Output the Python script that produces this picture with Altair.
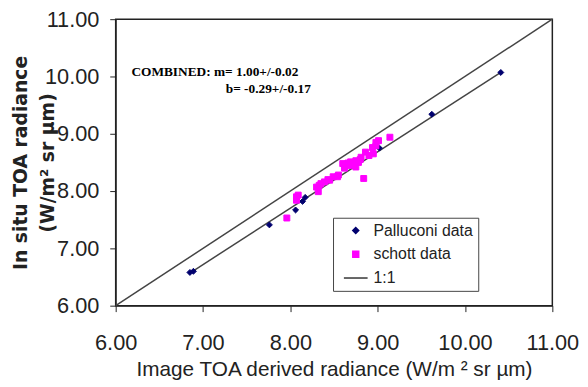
import altair as alt
import pandas as pd

# Palluconi data (image-derived x, in-situ y)
pal_x = [6.85, 6.89, 7.76, 8.06, 8.14, 8.17, 9.02, 9.62, 10.41]
pal_y = [6.58, 6.60, 7.41, 7.67, 7.82, 7.89, 8.75, 9.34, 10.07]

# schott data
sch_x = [7.96, 8.07, 8.07, 8.09, 8.30, 8.32, 8.33, 8.35, 8.39, 8.43, 8.45,
         8.49, 8.54, 8.55, 8.60, 8.62, 8.65, 8.66, 8.69, 8.70, 8.72, 8.75,
         8.75, 8.78, 8.80, 8.81, 8.84, 8.86, 8.90, 8.94, 8.95, 8.98, 8.98,
         9.01, 9.14]
sch_y = [7.53, 7.84, 7.90, 7.93, 8.07, 7.99, 8.10, 8.13, 8.16, 8.20, 8.19,
         8.25, 8.25, 8.28, 8.48, 8.40, 8.45, 8.49, 8.51, 8.45, 8.48, 8.53,
         8.42, 8.50, 8.55, 8.59, 8.22, 8.68, 8.62, 8.76, 8.65, 8.85, 8.79,
         8.88, 8.94]

# regression line and 1:1 line end points
fit_x = [6.85, 10.41]
fit_y = [6.57, 10.07]
one_x = [6.0, 11.0]
one_y = [6.0, 11.0]

series_names = ["Palluconi data", "schott data", "1:1"]
series_strokes = ["#00006e", "#ff00ff", "#333333"]
series_fills = ["#00006e", "#ff00ff", "transparent"]
series_shapes = ["diamond", "square", "M-4,0L4,0"]

tick_values = [6, 7, 8, 9, 10, 11]
axis_range = [6, 11]

note_x = [6.18, 7.26]
note_y = [10.0, 9.71]
note_text = ["COMBINED: m= 1.00+/-0.02", "b= -0.29+/-0.17"]

pts_df = pd.DataFrame({
    "x": pal_x + sch_x,
    "y": pal_y + sch_y,
    "series": [series_names[0]] * len(pal_x) + [series_names[1]] * len(sch_x),
})
fit_df = pd.DataFrame({"x": fit_x, "y": fit_y})
one_df = pd.DataFrame({"x": one_x, "y": one_y})
note_df = pd.DataFrame({"x": note_x, "y": note_y, "t": note_text})

xscale = alt.Scale(domain=axis_range, nice=False, zero=False)
yscale = alt.Scale(domain=axis_range, nice=False, zero=False)

xaxis = alt.Axis(
    values=tick_values, format=".2f", grid=False,
    title="Image TOA derived radiance (W/m \u00b2 sr \u00b5m)",
    labelFont="Liberation Sans", labelFontSize=22, labelColor="#222",
    labelPadding=21, labelFlush=False, tickSize=6, tickColor="#222",
    domainColor="#222", titleFont="Liberation Sans", titleFontSize=21,
    titleFontWeight="normal", titleColor="#222", titlePadding=6,
)
yaxis = alt.Axis(
    values=tick_values, format=".2f", grid=False,
    title=["In situ TOA radiance", "(W/m\u00b2 sr \u00b5m)"],
    labelFont="Liberation Sans", labelFontSize=22, labelColor="#222",
    labelPadding=11, labelFlush=False, tickSize=6, tickColor="#222",
    domainColor="#222", titleFont="DejaVu Sans", titleFontSize=19,
    titleFontWeight="bold", titleColor="#222", titleAngle=270,
    titleX=-96, titleY=145, titleAlign="center", titleBaseline="middle",
    titleLineHeight=27,
)

leg = alt.Legend(
    title=None, orient="none", legendX=220, legendY=201, padding=5,
    strokeColor="#444", fillColor="white",
    labelFont="Liberation Sans", labelFontSize=16, labelColor="#222",
    symbolSize=36, symbolStrokeWidth=1.5, symbolOffset=10, labelOffset=10,
    rowPadding=8, labelExpr="datum.label + '      '",
)

one_line = alt.Chart(one_df).mark_line(color="#444", strokeWidth=1.5).encode(
    x=alt.X("x:Q", scale=xscale, axis=xaxis),
    y=alt.Y("y:Q", scale=yscale, axis=yaxis),
)
fit_line = alt.Chart(fit_df).mark_line(color="#444", strokeWidth=1.5).encode(
    x=alt.X("x:Q", scale=xscale),
    y=alt.Y("y:Q", scale=yscale),
)
points = alt.Chart(pts_df).mark_point(filled=True, opacity=1, size=36, strokeWidth=1).encode(
    x=alt.X("x:Q", scale=xscale),
    y=alt.Y("y:Q", scale=yscale),
    fill=alt.Fill("series:N", scale=alt.Scale(domain=series_names, range=series_fills), legend=leg),
    stroke=alt.Stroke("series:N", scale=alt.Scale(domain=series_names, range=series_strokes), legend=leg),
    shape=alt.Shape("series:N", scale=alt.Scale(domain=series_names, range=series_shapes), legend=leg),
)
notes = alt.Chart(note_df).mark_text(
    align="left", baseline="alphabetic", font="Liberation Serif",
    fontWeight="bold", fontSize=13.5, color="black",
).encode(
    x=alt.X("x:Q", scale=xscale),
    y=alt.Y("y:Q", scale=yscale),
    text="t:N",
)

chart = alt.layer(one_line, fit_line, points, notes).properties(
    width=442, height=290,
    autosize=alt.AutoSizeParams(type="none"),
    padding={"left": 109, "top": 9, "right": 28, "bottom": 80},
    background="white",
).configure_view(stroke="#222", strokeWidth=1.5)

chart.save("out.html", embed_options={"renderer": "svg", "actions": False})
